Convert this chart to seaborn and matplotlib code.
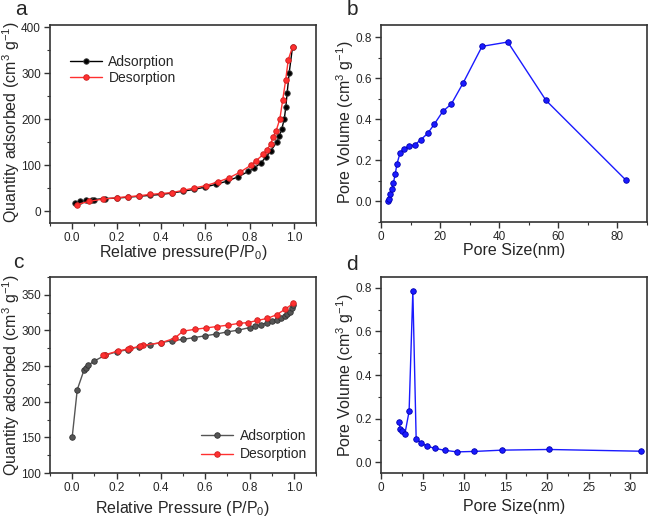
import matplotlib
matplotlib.use("Agg")
import matplotlib.pyplot as plt
from matplotlib.ticker import MultipleLocator
import seaborn as sns
import pandas as pd

# panel a - N2 isotherm
a_ads_x = [0.011, 0.035, 0.063, 0.088, 0.10, 0.146, 0.2, 0.25, 0.3, 0.35, 0.4, 0.45, 0.5, 0.55, 0.6,
           0.648, 0.70, 0.747, 0.795, 0.82, 0.85, 0.874, 0.895, 0.922, 0.934, 0.946, 0.957, 0.964, 0.970, 0.979, 0.994]
a_ads_y = [19, 22, 24, 25, 26, 28, 29, 31, 33, 35, 37, 40, 44, 48, 53,
           59, 66, 75, 87, 94, 105, 118, 131, 150, 163, 180, 201, 228, 258, 301, 357]
a_des_x = [0.994, 0.975, 0.963, 0.95, 0.937, 0.92, 0.907, 0.895, 0.877, 0.862, 0.829, 0.805, 0.756, 0.707,
           0.656, 0.602, 0.55, 0.501, 0.45, 0.4, 0.349, 0.3, 0.25, 0.2, 0.14, 0.077, 0.02]
a_des_y = [357, 330, 285, 243, 201, 175, 162, 146, 133, 124, 110, 100, 85, 73,
           64, 56, 51, 46, 41, 39, 37, 34, 32, 30, 27, 22, 15]

# panel b - pore size distribution
b_size = [2.5, 2.8, 3.2, 3.7, 4.2, 4.8, 5.4, 6.4, 7.7, 9.5, 11.5, 13.4, 15.8, 18.0, 20.9, 23.8, 27.7,
          34.2, 42.9, 55.8, 82.8]
b_vol = [0.0, 0.013, 0.037, 0.063, 0.091, 0.132, 0.183, 0.234, 0.258, 0.268, 0.277, 0.300, 0.332, 0.376,
         0.439, 0.475, 0.575, 0.756, 0.777, 0.493, 0.105]

# panel c - N2 isotherm
c_ads_x = [0.0, 0.023, 0.053, 0.062, 0.072, 0.099, 0.147, 0.2, 0.25, 0.3, 0.35, 0.4, 0.45, 0.5, 0.55,
           0.6, 0.65, 0.7, 0.75, 0.8, 0.824, 0.85, 0.877, 0.9, 0.926, 0.944, 0.959, 0.971, 0.982, 0.992, 0.997]
c_ads_y = [150, 217, 244, 247, 251, 257, 265, 270, 273, 277, 280, 283, 285.5, 287.5, 290,
           292.5, 295, 298, 300.5, 304, 306, 308, 310.5, 313, 315, 318, 320.5, 323.5, 326.5, 331, 335.5]
c_des_x = [0.997, 0.962, 0.922, 0.881, 0.836, 0.792, 0.753, 0.704, 0.653, 0.602, 0.552, 0.5, 0.462,
           0.403, 0.32, 0.305, 0.262, 0.25, 0.205, 0.15, 0.14]
c_des_y = [338, 330, 322, 317, 314, 311, 310, 307.5, 305.5, 303.5, 301.5, 299, 289,
           283, 279, 277.5, 275, 274, 271, 266, 265]

# panel d - pore size distribution
d_size = [2.13, 2.34, 2.54, 2.86, 3.38, 3.83, 4.23, 4.83, 5.52, 6.44, 7.65, 9.18, 11.2, 14.6, 20.2, 31.3]
d_vol = [0.185, 0.153, 0.145, 0.127, 0.233, 0.785, 0.107, 0.089, 0.073, 0.064, 0.054, 0.047, 0.049,
         0.055, 0.058, 0.050]

sns.set_style("ticks")
plt.rcParams['font.family'] = ['Liberation Sans', 'DejaVu Sans']
plt.rcParams['mathtext.fontset'] = 'custom'
plt.rcParams['mathtext.rm'] = 'Liberation Sans'
plt.rcParams['mathtext.it'] = 'Liberation Sans'
plt.rcParams['axes.edgecolor'] = '#333333'
plt.rcParams['axes.linewidth'] = 1.2

fig = plt.figure(figsize=(6.5, 5.17), dpi=100)
W, H = 650, 517


def make_ax(l, t, r, b):
    return fig.add_axes([l / W, (H - b) / H, (r - l) / W, (b - t) / H])


def px2ax(ax_box, x, y):
    # figure pixel -> axes fraction, for placing labels and legends
    l, t, r, b = ax_box
    return (x - l) / (r - l), (b - y) / (b - t)


def style(ax, xminor, yminor):
    ax.xaxis.set_minor_locator(MultipleLocator(xminor))
    ax.yaxis.set_minor_locator(MultipleLocator(yminor))
    ax.tick_params(which='major', direction='out', length=4, width=1, labelsize=8.5,
                   color='#333333', pad=2.5)
    ax.tick_params(which='minor', direction='out', length=2, width=0.8, color='#333333')
    for s in ax.spines.values():
        s.set_visible(True)


def draw(ax, x, y, color, edge, label=None):
    df = pd.DataFrame({'x': x, 'y': y})
    sns.lineplot(data=df, x='x', y='y', ax=ax, sort=False, color=color, lw=1.0, marker='o',
                 markersize=4.0, markerfacecolor=color, markeredgecolor=edge, markeredgewidth=0.6,
                 label=label, legend=label is not None)


lab = 11.5
ylab_iso = 'Quantity adsorbed (cm$^3$ g$^{-1}$)'
ylab_pore = 'Pore Volume (cm$^3$ g$^{-1}$)'

# a
box = (50, 25, 316, 223)
ax = make_ax(*box)
draw(ax, a_ads_x, a_ads_y, 'black', '#444444', 'Adsorption')
draw(ax, a_des_x, a_des_y, '#ff3030', '#cc2020', 'Desorption')
ax.set_xlim(-0.1, 1.1)
ax.set_ylim(-25, 405)
ax.set_xticks([0.0, 0.2, 0.4, 0.6, 0.8, 1.0])
ax.set_yticks([0, 100, 200, 300, 400])
style(ax, 0.1, 50)
ax.set_xlabel('Relative pressure(P/P$_0$)', fontsize=lab)
ax.set_ylabel(ylab_iso, fontsize=lab)
ax.xaxis.set_label_coords(*px2ax(box, 183, 243))
ax.yaxis.set_label_coords(*px2ax(box, 22, 122))
ax.legend(loc='upper left', bbox_to_anchor=px2ax(box, 64, 49), frameon=False, fontsize=10,
          handlelength=2.3, borderaxespad=0, labelspacing=0.2, handletextpad=0.5)
fig.text(21 / W, 1 - 9 / H, 'a', fontsize=15, va='center', ha='center')

# b
box = (381, 25, 647, 222)
ax = make_ax(*box)
draw(ax, b_size, b_vol, '#1a1aff', '#0000b0')
ax.set_xlim(0, 90)
ax.set_ylim(-0.1, 0.86)
ax.set_xticks([0, 20, 40, 60, 80])
ax.set_yticks([0.0, 0.2, 0.4, 0.6, 0.8])
style(ax, 10, 0.1)
ax.set_xlabel('Pore Size(nm)', fontsize=lab)
ax.set_ylabel(ylab_pore, fontsize=lab)
ax.xaxis.set_label_coords(*px2ax(box, 514, 243))
ax.yaxis.set_label_coords(*px2ax(box, 356, 122))
fig.text(352 / W, 1 - 9 / H, 'b', fontsize=15, va='center', ha='center')

# c
box = (50, 277, 316, 473)
ax = make_ax(*box)
draw(ax, c_ads_x, c_ads_y, '#555555', '#333333', 'Adsorption')
draw(ax, c_des_x, c_des_y, '#ff3030', '#cc2020', 'Desorption')
ax.set_xlim(-0.1, 1.1)
ax.set_ylim(100, 375)
ax.set_xticks([0.0, 0.2, 0.4, 0.6, 0.8, 1.0])
ax.set_yticks([100, 150, 200, 250, 300, 350])
style(ax, 0.1, 25)
ax.set_xlabel('Relative Pressure (P/P$_0$)', fontsize=lab)
ax.set_ylabel(ylab_iso, fontsize=lab)
ax.xaxis.set_label_coords(*px2ax(box, 183, 499))
ax.yaxis.set_label_coords(*px2ax(box, 22, 375))
ax.legend(loc='lower right', bbox_to_anchor=px2ax(box, 313, 467), frameon=False, fontsize=10,
          handlelength=2.3, borderaxespad=0, labelspacing=0.3, handletextpad=0.5)
fig.text(18 / W, 1 - 263 / H, 'c', fontsize=15, va='center', ha='center')

# d
box = (381, 277, 647, 473)
ax = make_ax(*box)
draw(ax, d_size, d_vol, '#1a1aff', '#0000b0')
ax.set_xlim(0, 32)
ax.set_ylim(-0.05, 0.85)
ax.set_xticks([0, 5, 10, 15, 20, 25, 30])
ax.set_yticks([0.0, 0.2, 0.4, 0.6, 0.8])
style(ax, 2.5, 0.1)
ax.set_xlabel('Pore Size(nm)', fontsize=lab)
ax.set_ylabel(ylab_pore, fontsize=lab)
ax.xaxis.set_label_coords(*px2ax(box, 514, 499))
ax.yaxis.set_label_coords(*px2ax(box, 356, 375))
fig.text(352 / W, 1 - 265 / H, 'd', fontsize=15, va='center', ha='center')

fig.savefig('out.png', dpi=100)
